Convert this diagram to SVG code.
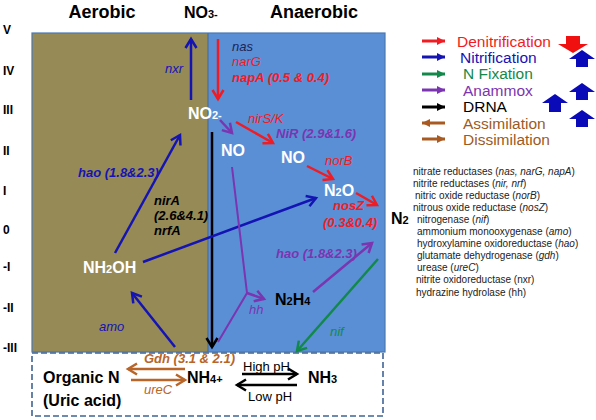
<svg xmlns="http://www.w3.org/2000/svg" width="596" height="420" viewBox="0 0 596 420">
<defs>
<style>
text{font-family:"Liberation Sans",Arial,Helvetica,sans-serif}
.ax{font-size:12px;font-weight:bold;fill:#000}
.hd{font-size:18px;font-weight:bold;fill:#000}
.wn{font-size:16px;font-weight:bold;fill:#fff}
.bn{font-size:16px;font-weight:bold;fill:#000}
.sb{font-size:11px}
.lab{font-size:13px;font-style:italic}
.b{font-weight:bold}
.lg{font-size:15.5px}
.ls{font-size:10px;fill:#222}
.ln{fill:none;stroke-width:2.5}
</style>
<marker id="mR" markerUnits="userSpaceOnUse" markerWidth="14" markerHeight="14" refX="11" refY="7" orient="auto"><path d="M2,1.5 L11,7 L2,12.5" fill="none" stroke="#f01c24" stroke-width="2.5"/></marker>
<marker id="mB" markerUnits="userSpaceOnUse" markerWidth="14" markerHeight="14" refX="11" refY="7" orient="auto"><path d="M2,1.5 L11,7 L2,12.5" fill="none" stroke="#1414b4" stroke-width="2.5"/></marker>
<marker id="mP" markerUnits="userSpaceOnUse" markerWidth="14" markerHeight="14" refX="11" refY="7" orient="auto"><path d="M2,1.5 L11,7 L2,12.5" fill="none" stroke="#7b35b0" stroke-width="2.5"/></marker>
<marker id="mG" markerUnits="userSpaceOnUse" markerWidth="14" markerHeight="14" refX="11" refY="7" orient="auto"><path d="M2,1.5 L11,7 L2,12.5" fill="none" stroke="#12894a" stroke-width="2.5"/></marker>
<marker id="mK" markerUnits="userSpaceOnUse" markerWidth="14" markerHeight="14" refX="11" refY="7" orient="auto"><path d="M2,1.5 L11,7 L2,12.5" fill="none" stroke="#000" stroke-width="2.5"/></marker>
<marker id="mN" markerUnits="userSpaceOnUse" markerWidth="14" markerHeight="14" refX="11" refY="7" orient="auto"><path d="M2,1.5 L11,7 L2,12.5" fill="none" stroke="#b8652a" stroke-width="2.5"/></marker>
<marker id="tR" markerUnits="userSpaceOnUse" markerWidth="10" markerHeight="10" refX="8" refY="5" orient="auto"><path d="M0,1 L8,5 L0,9 Z" fill="#f01c24"/></marker>
<marker id="tB" markerUnits="userSpaceOnUse" markerWidth="10" markerHeight="10" refX="8" refY="5" orient="auto"><path d="M0,1 L8,5 L0,9 Z" fill="#1414b4"/></marker>
<marker id="tG" markerUnits="userSpaceOnUse" markerWidth="10" markerHeight="10" refX="8" refY="5" orient="auto"><path d="M0,1 L8,5 L0,9 Z" fill="#12894a"/></marker>
<marker id="tP" markerUnits="userSpaceOnUse" markerWidth="10" markerHeight="10" refX="8" refY="5" orient="auto"><path d="M0,1 L8,5 L0,9 Z" fill="#7b35b0"/></marker>
<marker id="tK" markerUnits="userSpaceOnUse" markerWidth="10" markerHeight="10" refX="8" refY="5" orient="auto"><path d="M0,1 L8,5 L0,9 Z" fill="#000"/></marker>
<marker id="tN" markerUnits="userSpaceOnUse" markerWidth="10" markerHeight="10" refX="8" refY="5" orient="auto"><path d="M0,1 L8,5 L0,9 Z" fill="#a85a22"/></marker>
</defs>
<rect width="596" height="420" fill="#fff"/>

<g id="background">
<rect x="32" y="33" width="176" height="319" fill="#968a56"/>
<rect x="208" y="33" width="177" height="319" fill="#5a8fd6"/>
<rect x="32" y="33" width="353" height="319" fill="none" stroke="#4a78b0" stroke-width="1.2"/>
<line x1="208" y1="33" x2="208" y2="352" stroke="#4a6e9a" stroke-width="1.2"/>
<rect x="32" y="353" width="351" height="63" fill="#fff" stroke="#3f6494" stroke-width="1.6" stroke-dasharray="6,3"/>
</g>

<g id="axis">
<text class="ax" x="3" y="34">V</text>
<text class="ax" x="3" y="75">IV</text>
<text class="ax" x="3" y="114">III</text>
<text class="ax" x="3" y="155">II</text>
<text class="ax" x="3" y="195">I</text>
<text class="ax" x="3" y="234">0</text>
<text class="ax" x="3" y="271">-I</text>
<text class="ax" x="3" y="312">-II</text>
<text class="ax" x="3" y="352">-III</text>
</g>

<g id="headers">
<text class="hd" x="102" y="18" text-anchor="middle">Aerobic</text>
<text class="hd" x="314" y="18" text-anchor="middle">Anaerobic</text>
</g>

<g id="connectors">
<line class="ln" x1="191" y1="100" x2="191" y2="39" stroke="#1414b4" marker-end="url(#mB)"/>
<line class="ln" x1="218" y1="39" x2="218" y2="99" stroke="#f01c24" marker-end="url(#mR)"/>
<line class="ln" x1="220" y1="120" x2="232" y2="133" stroke="#7b35b0" marker-end="url(#mP)"/>
<line class="ln" x1="236" y1="122" x2="273" y2="143" stroke="#f01c24" marker-end="url(#mR)"/>
<line class="ln" x1="307" y1="166" x2="333" y2="179" stroke="#f01c24" marker-end="url(#mR)"/>
<line class="ln" x1="356" y1="193" x2="377" y2="205" stroke="#f01c24" marker-end="url(#mR)"/>
<line class="ln" x1="212" y1="132" x2="212" y2="347" stroke="#000" marker-end="url(#mK)"/>
<line class="ln" x1="115" y1="253" x2="180" y2="135" stroke="#1414b4" marker-end="url(#mB)"/>
<line class="ln" x1="143" y1="262" x2="316" y2="198" stroke="#1414b4" marker-end="url(#mB)"/>
<line class="ln" x1="175" y1="347" x2="132" y2="293" stroke="#1414b4" marker-end="url(#mB)"/>
<polyline points="232,167 247,293 218,342" fill="none" stroke="#7b35b0" stroke-width="2"/>
<line class="ln" x1="247" y1="293" x2="264" y2="299" stroke="#7b35b0" marker-end="url(#mP)"/>
<line class="ln" x1="313" y1="292" x2="372" y2="243" stroke="#7b35b0" marker-end="url(#mP)"/>
<line class="ln" x1="378" y1="259" x2="297" y2="351" stroke="#12894a" marker-end="url(#mG)"/>
<line class="ln" x1="185" y1="369" x2="128" y2="369" stroke="#b8652a" marker-end="url(#mN)"/>
<line class="ln" x1="131" y1="380" x2="185" y2="380" stroke="#b8652a" marker-end="url(#mN)"/>
<line class="ln" x1="242" y1="374" x2="297" y2="374" stroke="#000" marker-end="url(#mK)"/>
<line class="ln" x1="297" y1="385" x2="237" y2="385" stroke="#000" marker-end="url(#mK)"/>
</g>

<g id="NO3"><text class="bn" x="184" y="18" font-size="15">NO<tspan class="sb">3-</tspan></text></g>
<g id="NO2"><text class="wn" x="188" y="119" font-size="15">NO<tspan class="sb">2-</tspan></text></g>
<g id="NO_1"><text class="wn" x="221" y="156">NO</text></g>
<g id="NO_2"><text class="wn" x="281" y="163">NO</text></g>
<g id="N2O"><text class="wn" x="324" y="196">N<tspan class="sb">2</tspan>O</text></g>
<g id="N2"><text class="bn" x="391" y="224">N<tspan class="sb" font-size="12">2</tspan></text></g>
<g id="NH2OH"><text class="wn" x="83" y="273">NH<tspan class="sb">2</tspan>OH</text></g>
<g id="N2H4"><text class="bn" x="275" y="305">N<tspan class="sb" font-size="12">2</tspan>H<tspan class="sb" font-size="12">4</tspan></text></g>
<g id="NH4"><text class="bn" x="187" y="383">NH<tspan class="sb">4+</tspan></text></g>
<g id="NH3"><text class="bn" x="308" y="383">NH<tspan class="sb">3</tspan></text></g>
<g id="OrganicN"><text class="bn" x="43" y="383" font-size="17">Organic N</text><text class="bn" x="43" y="406" font-size="17">(Uric acid)</text></g>

<g id="labels">
<text class="lab" x="165" y="73" fill="#1414b4">nxr</text>
<text class="lab" x="232" y="51" fill="#1c2458">nas</text>
<text class="lab" x="232" y="66" fill="#f01c24">narG</text>
<text class="lab b" x="232" y="82" fill="#f01c24">napA (0.5 &amp; 0.4)</text>
<text class="lab" x="248" y="123" fill="#f01c24">nirS/K</text>
<text class="lab b" x="276" y="138" fill="#7b35b0">NiR (2.9&amp;1.6)</text>
<text class="lab" x="325" y="165" fill="#f01c24">norB</text>
<text class="lab b" x="333" y="210" fill="#f01c24">nosZ</text>
<text class="lab b" x="323" y="227" fill="#f01c24">(0.3&amp;0.4)</text>
<text class="lab b" x="78" y="177" fill="#1414b4">hao (1.8&amp;2.3)</text>
<text class="lab b" x="154" y="205" fill="#000">nirA</text>
<text class="lab b" x="154" y="220" fill="#000">(2.6&amp;4.1)</text>
<text class="lab b" x="154" y="235" fill="#000">nrfA</text>
<text class="lab b" x="276" y="258" fill="#7b35b0">hao (1.8&amp;2.3)</text>
<text class="lab" x="249" y="314" fill="#7b35b0">hh</text>
<text class="lab" x="330" y="336" fill="#12894a">nif</text>
<text class="lab" x="99" y="331" fill="#1414b4">amo</text>
<text class="lab b" x="144" y="363" fill="#b8652a">Gdh (3.1 &amp; 2.1)</text>
<text class="lab" x="144" y="394" fill="#b8652a">ureC</text>
<text x="243" y="371" font-size="13" fill="#000">High pH</text>
<text x="248" y="401" font-size="13" fill="#000">Low pH</text>
</g>

<g id="legend">
<line x1="422" y1="41" x2="445" y2="41" stroke="#f01c24" stroke-width="3" marker-end="url(#tR)"/>
<line x1="422" y1="57" x2="445" y2="57" stroke="#1414b4" stroke-width="3" marker-end="url(#tB)"/>
<line x1="422" y1="74" x2="445" y2="74" stroke="#12894a" stroke-width="3" marker-end="url(#tG)"/>
<line x1="422" y1="90" x2="445" y2="90" stroke="#7b35b0" stroke-width="3" marker-end="url(#tP)"/>
<line x1="422" y1="107" x2="445" y2="107" stroke="#000" stroke-width="3" marker-end="url(#tK)"/>
<line x1="445" y1="123" x2="422" y2="123" stroke="#a85a22" stroke-width="3" marker-end="url(#tN)"/>
<line x1="422" y1="139" x2="445" y2="139" stroke="#a85a22" stroke-width="3" marker-end="url(#tN)"/>
<text class="lg" x="457" y="46.5" fill="#f01c24">Denitrification</text>
<text class="lg" x="460" y="62.5" fill="#1414b4">Nitrification</text>
<text class="lg" x="463" y="79" fill="#12894a">N Fixation</text>
<text class="lg" x="463" y="95.5" fill="#7b35b0">Anammox</text>
<text class="lg" x="463" y="112" fill="#000">DRNA</text>
<text class="lg" x="463" y="128.5" fill="#9e5a1e">Assimilation</text>
<text class="lg" x="463" y="144.5" fill="#9e5a1e">Dissimilation</text>
<polygon points="566,36 580,36 580,44 588,44 573,53 558,44 566,44" fill="#f01010"/>
<polygon points="582,50 595,59 588,59 588,67 576,67 576,59 569,59" fill="#0a0ab8"/>
<polygon points="582,83 595,92 588,92 588,100 576,100 576,92 569,92" fill="#0a0ab8"/>
<polygon points="555,94 568,103 561,103 561,112 549,112 549,103 542,103" fill="#0a0ab8"/>
<polygon points="582,110 595,119 588,119 588,127 576,127 576,119 569,119" fill="#0a0ab8"/>
</g>

<g id="enzymes">
<text class="ls" x="413" y="174.5">nitrate reductases (<tspan font-style="italic">nas, narG, napA</tspan>)</text>
<text class="ls" x="413" y="186.6">nitrite reductases (<tspan font-style="italic">nir, nrf</tspan>)</text>
<text class="ls" x="415" y="198.7">nitric oxide reductase (<tspan font-style="italic">norB</tspan>)</text>
<text class="ls" x="413" y="210.8">nitrous oxide reductase (<tspan font-style="italic">nosZ</tspan>)</text>
<text class="ls" x="417" y="222.9">nitrogenase (<tspan font-style="italic">nif</tspan>)</text>
<text class="ls" x="417" y="235">ammonium monooxygenase (<tspan font-style="italic">amo</tspan>)</text>
<text class="ls" x="417" y="247.1">hydroxylamine oxidoreductase (<tspan font-style="italic">hao</tspan>)</text>
<text class="ls" x="417" y="259.2">glutamate dehydrogenase (<tspan font-style="italic">gdh</tspan>)</text>
<text class="ls" x="417" y="271.3">urease (<tspan font-style="italic">ureC</tspan>)</text>
<text class="ls" x="416" y="283.4">nitrite oxidoreductase (nxr)</text>
<text class="ls" x="416" y="295.5">hydrazine hydrolase (hh)</text>
</g>
</svg>
